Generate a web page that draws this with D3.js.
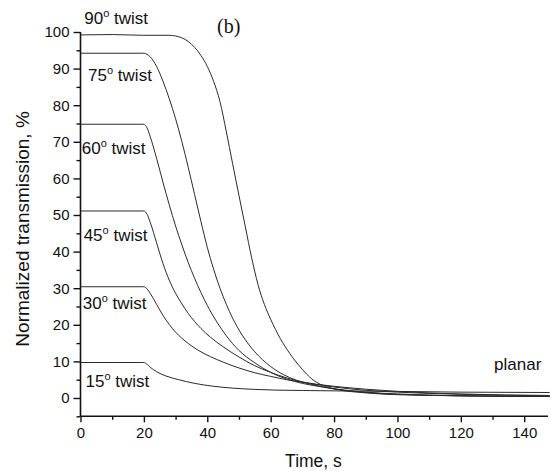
<!DOCTYPE html>
<html>
<head>
<meta charset="utf-8">
<script src="https://cdn.jsdelivr.net/npm/d3@7"></script>
<style>
  body { margin: 0; background: #fff; }
  svg text { font-family: "Liberation Sans", Arial, sans-serif; fill: #111; }
</style>
</head>
<body>
<div id="chart"></div>
<script>
// data: [time s, normalized transmission %]
const twist90 = [[0,99.2],[10,99.3],[20,99.1],[28,99.1],[30,98.9],[32,98.4],[34,97.4],[36,95.8],[38,93.6],[40,90.6],[42,86.5],[44,81],[46,72.8],[48,64],[50,55.3],[52,46.8],[54,38.3],[56,31],[58,25.6],[60,21.5],[63,16.3],[66,12.2],[70,7.8],[73,5.2],[76,3.6],[80,2.5],[90,1.4],[100,0.9],[120,0.6],[148,0.4]];
const twist75 = [[0,94.2],[19,94.2],[20,94.2],[21,93.9],[22,93.2],[24,90.6],[26,86.6],[28,81.8],[30,76.3],[32,70],[34,63],[36,55.6],[38,48.2],[40,41.2],[42,35.2],[44,30],[46,25.6],[48,21.8],[51,17.2],[55,12.6],[60,8.6],[64,6.4],[68,4.9],[72,3.9],[76,3.1],[80,2.5],[90,1.5],[100,1],[120,0.6],[148,0.4]];
const twist60 = [[0,74.8],[19,74.8],[20,74.8],[21,73.8],[22,71.4],[24,65.5],[26,59],[28,52.8],[30,47],[32,41.8],[34,37],[36,32.7],[38,28.8],[40,25.3],[43,20.8],[46,17],[50,13],[55,9.6],[60,7],[65,5.2],[70,4],[75,3.2],[80,2.5],[90,1.6],[100,1.1],[120,0.6],[148,0.4]];
const twist45 = [[0,51.1],[19,51.1],[20,51.1],[21,50.2],[22,48],[24,42.4],[26,36.8],[28,32.2],[30,28.6],[32,25.7],[34,23.1],[36,20.9],[38,19],[41,16.6],[45,14],[50,11.2],[55,8.8],[60,7],[65,5.5],[70,4.4],[75,3.6],[80,3],[90,2.1],[100,1.6],[120,1],[148,0.6]];
const twist30 = [[0,30.4],[19,30.4],[20,30.4],[21,29.8],[22,28.6],[24,25.6],[26,22.6],[28,20.1],[30,18],[32,16.3],[34,14.9],[37,13.1],[41,11.3],[45,9.8],[50,8.2],[55,6.9],[60,5.9],[65,5],[70,4.3],[75,3.7],[80,3.2],[90,2.4],[100,1.8],[120,1.1],[148,0.7]];
const twist15 = [[0,9.7],[19,9.7],[20,9.7],[21,9.2],[22,8.4],[24,7.2],[27,6],[31,5],[36,4],[42,3.2],[48,2.7],[55,2.35],[62,2.15],[70,2.05],[80,1.95],[100,1.8],[120,1.6],[148,1.5]];

const seriesList = [twist90, twist75, twist60, twist45, twist30, twist15];
const angles = ["90", "75", "60", "45", "30", "15"];
// label anchor in data units (time, value of baseline)
const labelTimes = [1.2, 2.4, 0.4, 1.0, 0.7, 1.6];
const labelValues = [102.2, 86.6, 66.8, 43.0, 24.2, 3.0];

const xTicks = [0, 20, 40, 60, 80, 100, 120, 140];
const xMinor = [10, 30, 50, 70, 90, 110, 130];
const yTicks = [0, 10, 20, 30, 40, 50, 60, 70, 80, 90, 100];
const yMinor = [-5, 5, 15, 25, 35, 45, 55, 65, 75, 85, 95];

const width = 551, height = 471;

const x = d3.scaleLinear().domain([0, 147.5]).range([80.5, 548]);
const y = d3.scaleLinear().domain([-5, 100]).range([416.3, 32]);

const svg = d3.select("#chart").append("svg")
  .attr("width", width).attr("height", height);

// axes
const xAxis = svg.append("g").attr("transform", `translate(0,${y(-5)})`)
  .call(d3.axisBottom(x).tickValues(xTicks).tickSize(6).tickPadding(5));
svg.append("g").attr("transform", `translate(0,${y(-5)})`)
  .call(d3.axisBottom(x).tickValues(xMinor).tickSize(3.5).tickFormat(""))
  .select(".domain").remove();

const yAxis = svg.append("g").attr("transform", `translate(${x(0)},0)`)
  .call(d3.axisLeft(y).tickValues(yTicks).tickSize(7).tickPadding(4));
svg.append("g").attr("transform", `translate(${x(0)},0)`)
  .call(d3.axisLeft(y).tickValues(yMinor).tickSize(4).tickFormat(""))
  .select(".domain").remove();

svg.selectAll(".domain").attr("stroke", "#111").attr("stroke-width", 1.6);
svg.selectAll(".tick line").attr("stroke", "#111").attr("stroke-width", 1.4);
svg.selectAll(".tick text").style("font-size", "15px")
  .style("font-family", "'Liberation Sans', Arial, sans-serif").attr("fill", "#111");
xAxis.selectAll(".domain").attr("d", `M${x(0)},0H${x(147.5)}`);
yAxis.selectAll(".domain").attr("d", `M0,${y(100)}V${y(-5)}`);

// curves
const line = d3.line()
  .x(d => x(d[0]))
  .y(d => y(d[1]))
  .curve(d3.curveMonotoneX);

svg.append("g").selectAll("path")
  .data(seriesList)
  .enter().append("path")
  .attr("d", line)
  .attr("fill", "none")
  .attr("stroke", "#2a2a2a")
  .attr("stroke-width", 1);

// twist labels
const lbl = svg.append("g").selectAll("text")
  .data(angles)
  .enter().append("text")
  .attr("x", (d, i) => x(labelTimes[i]))
  .attr("y", (d, i) => y(labelValues[i]))
  .style("font-size", "17px");
lbl.append("tspan").text(d => d);
lbl.append("tspan").attr("dy", -7).style("font-size", "11px").text("o");
lbl.append("tspan").attr("dy", 7).text(" twist");

svg.append("text")
  .attr("x", x(130.5)).attr("y", y(7.7))
  .style("font-size", "17px")
  .text("planar");

svg.append("text")
  .attr("x", 217).attr("y", 33)
  .style("font-family", "'Liberation Serif', 'Times New Roman', serif")
  .style("font-size", "20px")
  .text("(b)");

// axis titles
svg.append("text")
  .attr("x", x(73.5)).attr("y", 467)
  .attr("text-anchor", "middle")
  .style("font-size", "17.5px")
  .text("Time, s");

svg.append("text")
  .attr("transform", `translate(29,${y(46.2)}) rotate(-90)`)
  .attr("text-anchor", "middle")
  .style("font-size", "19px")
  .text("Normalized transmission, %");
</script>
</body>
</html>
